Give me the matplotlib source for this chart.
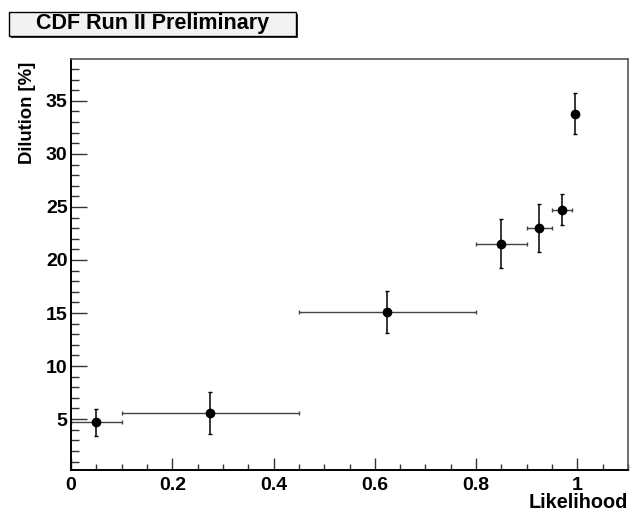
import matplotlib
matplotlib.use("Agg")
import matplotlib.pyplot as plt
from matplotlib.patches import Rectangle
from matplotlib.ticker import MultipleLocator

# Likelihood bins (centres and half-widths) and measured dilution
likelihood = [0.05, 0.275, 0.625, 0.85, 0.925, 0.97, 0.995]
likelihood_halfwidth = [0.05, 0.175, 0.175, 0.05, 0.025, 0.02, 0.005]
dilution = [4.7, 5.57, 15.1, 21.55, 23.0, 24.75, 33.8]
dilution_err = [1.28, 2.0, 2.0, 2.35, 2.25, 1.45, 1.95]

x_ticks = [0, 0.2, 0.4, 0.6, 0.8, 1]
x_ticklabels = ["0", "0.2", "0.4", "0.6", "0.8", "1"]
y_ticks = [5, 10, 15, 20, 25, 30, 35]

W, H = 631, 511
fig = plt.figure(figsize=(W / 100, H / 100), dpi=100)
plt.rcParams["font.family"] = ["Liberation Sans", "DejaVu Sans"]

ax = fig.add_axes([71 / W, 1 - 470 / H, (628 - 71) / W, (470 - 59.5) / H])

# horizontal (bin width) and vertical (uncertainty) error bars
ax.errorbar(likelihood, dilution, xerr=likelihood_halfwidth, fmt="none",
            ecolor="#444444", elinewidth=1.0, capsize=1.6, capthick=1.0)
ax.errorbar(likelihood, dilution, yerr=dilution_err, fmt="none",
            ecolor="black", elinewidth=1.1, capsize=1.6, capthick=1.0)
ax.plot(likelihood, dilution, "o", color="black", markersize=6.0, zorder=5)

ax.set_xlim(0, 1.1)
ax.set_ylim(0.2, 38.9)

ax.set_xticks(x_ticks)
ax.set_xticklabels(x_ticklabels)
ax.set_yticks(y_ticks)
ax.xaxis.set_minor_locator(MultipleLocator(0.05))
ax.yaxis.set_minor_locator(MultipleLocator(1))

ax.tick_params(axis="both", which="both", direction="in", color="#333333",
               width=1.0, top=False, right=False)
ax.tick_params(axis="x", which="major", length=8.6, pad=5)
ax.tick_params(axis="x", which="minor", length=4.3)
ax.tick_params(axis="y", which="major", length=11.5, pad=2.5)
ax.tick_params(axis="y", which="minor", length=5.8)
for lab in ax.get_xticklabels() + ax.get_yticklabels():
    lab.set_fontsize(14)
    lab.set_fontweight("bold")

for side in ["left", "bottom"]:
    ax.spines[side].set_color("black")
    ax.spines[side].set_linewidth(1.4)
for side in ["top", "right"]:
    ax.spines[side].set_color("#555555")
    ax.spines[side].set_linewidth(1.2)

# axis titles
fig.text(27 / W, 1 - 62 / H, "Dilution [%]", rotation=90, ha="center", va="top",
         fontsize=13.3, fontweight="bold")
fig.text(628 / W, 1 - 502 / H, "Likelihood", ha="right", va="center",
         fontsize=14.3, fontweight="bold")

# title box with drop shadow
bx0, by0, bx1, by1 = 9, 12, 296, 36
fig.patches.append(Rectangle(((bx0 + 2) / W, 1 - (by1 + 2) / H), (bx1 - bx0) / W,
                             (by1 - by0) / H, transform=fig.transFigure,
                             facecolor="#333333", edgecolor="none"))
fig.patches.append(Rectangle((bx0 / W, 1 - by1 / H), (bx1 - bx0) / W,
                             (by1 - by0) / H, transform=fig.transFigure,
                             facecolor="#f2f2f2", edgecolor="black", linewidth=1.0))
fig.text((bx0 + bx1) / 2 / W, 1 - (by0 + by1) / 2 / H, "CDF Run II Preliminary",
         ha="center", va="center", fontsize=15.5, fontweight="bold")

fig.savefig("out.png", dpi=100)
